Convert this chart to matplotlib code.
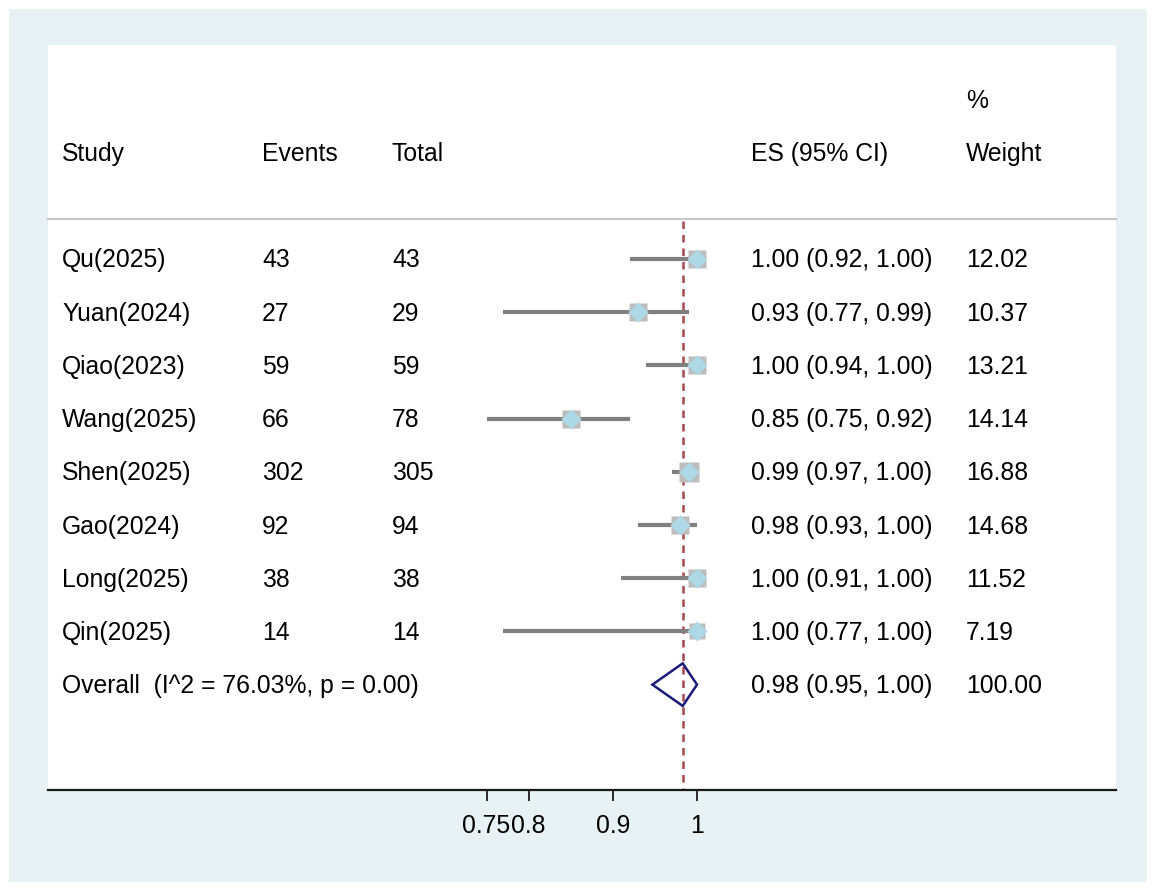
import numpy as np
import matplotlib
matplotlib.use("Agg")
import matplotlib.pyplot as plt
import matplotlib.transforms as mtransforms
from matplotlib.patches import Rectangle, Polygon

plt.rcParams['font.family'] = ['Liberation Sans', 'DejaVu Sans']

# dane do wykresu
studies = ["Qu(2025)", "Yuan(2024)", "Qiao(2023)", "Wang(2025)",
           "Shen(2025)", "Gao(2024)", "Long(2025)", "Qin(2025)"]
events = [43, 27, 59, 66, 302, 92, 38, 14]
totals = [43, 29, 59, 78, 305, 94, 38, 14]
es = [1.00, 0.93, 1.00, 0.85, 0.99, 0.98, 1.00, 1.00]
ci_lo = [0.92, 0.77, 0.94, 0.75, 0.97, 0.93, 0.91, 0.77]
ci_hi = [1.00, 0.99, 1.00, 0.92, 1.00, 1.00, 1.00, 1.00]
weights = [12.02, 10.37, 13.21, 14.14, 16.88, 14.68, 11.52, 7.19]

overall_es = 0.983
overall_lo = 0.947
overall_hi = 1.00
overall_weight = 100.00
overall_label = "Overall  (I^2 = 76.03%, p = 0.00)"

xticks = [0.75, 0.8, 0.9, 1]
xtick_labels = ["0.75", "0.8", "0.9", "1"]

FS = 17.8
bg = '#E8F1F3'

fig = plt.figure(figsize=(11.55, 8.9), dpi=100)
fig.patch.set_facecolor('white')

# jasne tło ramki
fig.add_artist(Rectangle((9 / 1155, 8 / 890), 1138 / 1155, 873 / 890,
                         transform=fig.transFigure, facecolor=bg,
                         edgecolor='none', zorder=0))

ax = fig.add_axes([48 / 1155, 100 / 890, 1068 / 1155, 745 / 890])
ax.set_facecolor('white')
ax.set_xlim(0.2292, 1.4976)
ax.set_ylim(9.98, -4.02)

for s in ['top', 'left', 'right']:
    ax.spines[s].set_visible(False)
ax.spines['bottom'].set_linewidth(1.6)
ax.spines['bottom'].set_color('#1a1a1a')
ax.set_yticks([])
ax.set_xticks(xticks)
ax.set_xticklabels(xtick_labels, fontsize=FS)
ax.tick_params(axis='x', length=8, width=1.3, pad=9, color='#1a1a1a')

tr = mtransforms.blended_transform_factory(ax.transAxes, ax.transData)
col_x = [0.0131, 0.2004, 0.322, 0.658, 0.8596]
off = 0.16

# nagłówki
ax.text(col_x[4], -3 + off, "%", transform=tr, fontsize=FS, va='baseline')
for cx, t in zip(col_x, ["Study", "Events", "Total", "ES (95% CI)", "Weight"]):
    ax.text(cx, -2 + off, t, transform=tr, fontsize=FS, va='baseline')

# linia oddzielająca nagłówek
ax.plot([0, 1], [-0.75, -0.75], transform=tr, color='#C8C8C8', lw=1.6,
        clip_on=False)

# linia efektu łącznego
ax.plot([overall_es, overall_es], [-0.72, 9.98], color='#A8474E', lw=1.8,
        ls=(0, (3, 2.4)), zorder=2)

# badania
for i in range(len(studies)):
    ax.plot([ci_lo[i], ci_hi[i]], [i, i], color='#808080', lw=3,
            solid_capstyle='butt', zorder=3)
    side = 11 + 2.0 * np.sqrt(weights[i])
    ax.plot(es[i], i, marker='s', ms=side * 0.72, color='#BDBDBD',
            mec='none', zorder=4)
    ax.plot(es[i], i, marker='D', ms=19 * 0.72 * 0.72, color='#ADD8E6',
            mec='none', zorder=5)
    ax.text(col_x[0], i + off, studies[i], transform=tr, fontsize=FS,
            va='baseline')
    ax.text(col_x[1], i + off, str(events[i]), transform=tr, fontsize=FS,
            va='baseline')
    ax.text(col_x[2], i + off, str(totals[i]), transform=tr, fontsize=FS,
            va='baseline')
    ax.text(col_x[3], i + off, f"{es[i]:.2f} ({ci_lo[i]:.2f}, {ci_hi[i]:.2f})",
            transform=tr, fontsize=FS, va='baseline')
    ax.text(col_x[4], i + off, f"{weights[i]:.2f}", transform=tr,
            fontsize=FS, va='baseline')

# wynik łączny
yo = len(studies)
diamond = Polygon([[overall_lo, yo], [overall_es, yo - 0.4],
                   [overall_hi, yo], [overall_es, yo + 0.4]],
                  closed=True, facecolor='none', edgecolor='#1B1B7A',
                  lw=1.8, zorder=5)
ax.add_patch(diamond)
ax.text(col_x[0], yo + off, overall_label, transform=tr, fontsize=FS,
        va='baseline')
ax.text(col_x[3], yo + off,
        f"{overall_es:.2f} ({overall_lo:.2f}, {overall_hi:.2f})",
        transform=tr, fontsize=FS, va='baseline')
ax.text(col_x[4], yo + off, f"{overall_weight:.2f}", transform=tr,
        fontsize=FS, va='baseline')

fig.savefig('out.png', dpi=100, facecolor=fig.get_facecolor())
